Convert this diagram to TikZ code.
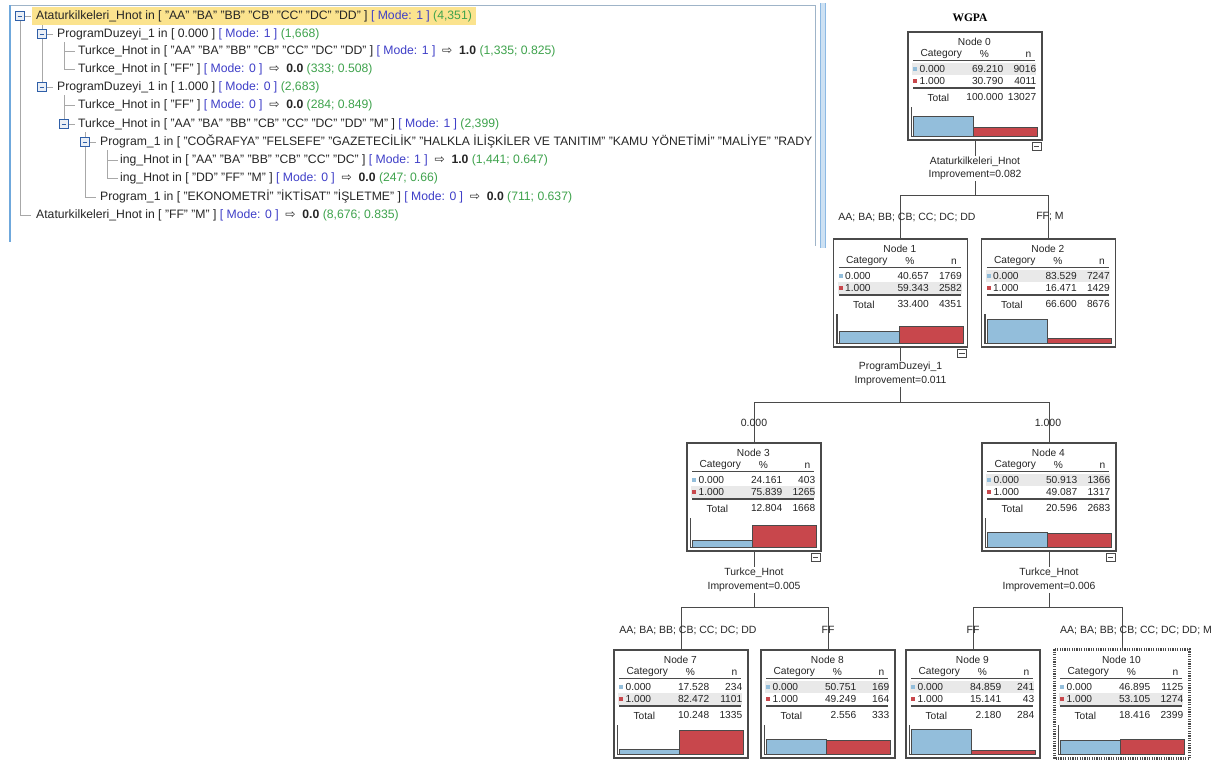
\documentclass[tikz,border=0pt]{standalone}
\usepackage{fontspec}
\setmainfont{Liberation Sans}
\newfontfamily\serifbold{Liberation Serif}
\newfontfamily\arrowfont{DejaVu Sans}
\usetikzlibrary{calc}

\definecolor{modeblue}{HTML}{3F3FC8}
\definecolor{cntgreen}{HTML}{3FA34D}
\definecolor{hilite}{HTML}{FBE38E}
\definecolor{guide}{HTML}{A8A8A8}
\definecolor{iconblue}{HTML}{2F5FA8}
\definecolor{panelblue}{HTML}{6FA8DC}
\definecolor{panelgrey}{HTML}{9FB4C8}
\definecolor{barblue}{HTML}{93BEDB}
\definecolor{barred}{HTML}{C8474C}
\definecolor{boxgrey}{HTML}{4A4A4A}
\definecolor{rowgrey}{HTML}{E9E9E9}

% rule tree text parts
\newcommand{\md}[1]{\textcolor{modeblue}{[ Mode: #1 ]}}
\newcommand{\cnt}[1]{\textcolor{cntgreen}{(#1)}}
\newcommand{\pred}[1]{\ {\arrowfont ⇨}\ \ \textbf{#1}}

\tikzset{
  rule/.style={anchor=west,inner sep=0pt,text height=9pt,text depth=3pt,
    font=\fontsize{12.2}{14}\selectfont,text=black!85},
  expander/.style={draw=iconblue,fill=iconblue!10,minimum size=8.5pt,inner sep=0pt,line width=0.8pt,
    path picture={\draw[iconblue,line width=0.9pt] ([xshift=1.8pt]path picture bounding box.west)
      -- ([xshift=-1.8pt]path picture bounding box.east);}},
  collapse/.style={draw=boxgrey,fill=white,minimum width=9pt,minimum height=8pt,inner sep=0pt,line width=0.8pt,
    path picture={\draw[boxgrey,line width=0.8pt] ([xshift=1.8pt]path picture bounding box.west)
      -- ([xshift=-1.8pt]path picture bounding box.east);}},
  catnode/.style={draw=boxgrey,fill=white,line width=1.2pt,minimum width=134pt,minimum height=108pt,inner sep=0pt},
  cell/.style={inner sep=0pt,font=\fontsize{10.2}{11}\selectfont,text=black!85},
  splitlabel/.style={align=center,inner sep=1pt,font=\fontsize{10.4}{13.5}\selectfont,text=black!85},
  branchlabel/.style={inner sep=0pt,font=\fontsize{10.5}{12}\selectfont,text=black!85},
  link/.style={draw=boxgrey,line width=1pt}
}

% one category box: number, x, top, pct0, n0, pct1, n1, total pct, total n
\newcommand{\catbox}[9]{%
  \node[catnode] (n#1) at (#2,{#3+54}) {};
  \pgfmathparse{#6>#4 ? 1 : 0}\let\majrow\pgfmathresult
  \begin{scope}[shift={(n#1.north west)}]
    \fill[rowgrey] (5,{32+12*\majrow}) rectangle (129,{44+12*\majrow});
    \node[cell] at (67,10) {Node #1};
    \node[cell,anchor=west] at (13,23) {Category};
    \node[cell] at (77,23) {\%};
    \node[cell,anchor=east] at (124,23) {n};
    \draw[boxgrey,line width=0.7pt] (6,29) -- (128,29);
    \fill[barblue] (6,36) rectangle (10,40);
    \node[cell,anchor=west] at (12,38) {0.000};
    \node[cell,anchor=east] at (96,38) {#4};
    \node[cell,anchor=east] at (129,38) {#5};
    \fill[barred] (6,48) rectangle (10,52);
    \node[cell,anchor=west] at (12,50) {1.000};
    \node[cell,anchor=east] at (96,50) {#6};
    \node[cell,anchor=east] at (129,50) {#7};
    \draw[boxgrey,line width=1.4pt] (6,56.5) -- (128,56.5);
    \node[cell,anchor=west] at (20,66) {Total};
    \node[cell,anchor=east] at (96,66) {#8};
    \node[cell,anchor=east] at (129,66) {#9};
    \filldraw[fill=barblue,draw=boxgrey,line width=0.8pt] (6,105) rectangle (66,{105-0.29*#4});
    \filldraw[fill=barred,draw=boxgrey,line width=0.8pt] (66,105) rectangle (130,{105-0.29*#6});
    \draw[boxgrey,line width=1.4pt] (4,76) -- (4,105) -- (131,105);
  \end{scope}}

\begin{document}
\begin{tikzpicture}[x=1pt,y=-1pt]
  \useasboundingbox[fill=white] (0,0) rectangle (1215,764);

  % ---- rule tree panel ----
  \draw[panelgrey,line width=0.8pt] (9,5) -- (815,5) -- (815,246);
  \fill[panelblue!35] (820,3) rectangle (825,248);
  \draw[panelblue!80,line width=0.6pt] (820,3) -- (820,248) (825,3) -- (825,248);
  \draw[panelblue,line width=2pt] (10,5) -- (10,242);

  % guide lines
  \draw[guide,line width=0.8pt] (20,16) -- (20,215) -- (31,215);
  \draw[guide,line width=0.8pt] (42,24) -- (42,87);
  \draw[guide,line width=0.8pt] (64,42) -- (64,69) -- (75,69) (64,51) -- (75,51);
  \draw[guide,line width=0.8pt] (64,95) -- (64,124) (64,105) -- (75,105);
  \draw[guide,line width=0.8pt] (85,132) -- (85,197) -- (96,197);
  \draw[guide,line width=0.8pt] (107,150) -- (107,178) -- (118,178) (107,160) -- (118,160);
  \foreach \ex/\ey in {20/16,42/34,42/87,64/124,85/142}
    \draw[guide,line width=0.8pt] (\ex,\ey) -- ++(11,0);

  \node[expander] (e0) at (20,16) {};
  \node[expander] (e1) at (42,34) {};
  \node[expander] (e4) at (42,87) {};
  \node[expander] (e6) at (64,124) {};
  \node[expander] (e7) at (85,142) {};

  % selected rule, highlighted
  \node[rule,fill=hilite,inner xsep=4pt,inner ysep=3pt] (r0) at (32,16) {Ataturkilkeleri\_Hnot in [ "AA" "BA" "BB" "CB" "CC" "DC" "DD" ] \md{1} \cnt{4,351}};
  \node[rule] (r1) at (57,34) {ProgramDuzeyi\_1 in [ 0.000 ] \md{1} \cnt{1,668}};
  \node[rule] (r2) at (78,51) {Turkce\_Hnot in [ "AA" "BA" "BB" "CB" "CC" "DC" "DD" ] \md{1} \pred{1.0} \cnt{1,335; 0.825}};
  \node[rule] (r3) at (78,69) {Turkce\_Hnot in [ "FF" ] \md{0} \pred{0.0} \cnt{333; 0.508}};
  \node[rule] (r4) at (57,87) {ProgramDuzeyi\_1 in [ 1.000 ] \md{0} \cnt{2,683}};
  \node[rule] (r5) at (78,105) {Turkce\_Hnot in [ "FF" ] \md{0} \pred{0.0} \cnt{284; 0.849}};
  \node[rule] (r6) at (78,124) {Turkce\_Hnot in [ "AA" "BA" "BB" "CB" "CC" "DC" "DD" "M" ] \md{1} \cnt{2,399}};
  \begin{scope}
    \clip (0,0) rectangle (813,250);
    \node[rule] (r7) at (100,142) {Program\_1 in [ "COĞRAFYA" "FELSEFE" "GAZETECİLİK" "HALKLA İLİŞKİLER VE TANITIM" "KAMU YÖNETİMİ" "MALİYE" "RADY};
  \end{scope}
  \node[rule] (r8) at (120,160) {ing\_Hnot in [ "AA" "BA" "BB" "CB" "CC" "DC" ] \md{1} \pred{1.0} \cnt{1,441; 0.647}};
  \node[rule] (r9) at (120,178) {ing\_Hnot in [ "DD" "FF" "M" ] \md{0} \pred{0.0} \cnt{247; 0.66}};
  \node[rule] (r10) at (100,197) {Program\_1 in [ "EKONOMETRİ" "İKTİSAT" "İŞLETME" ] \md{0} \pred{0.0} \cnt{711; 0.637}};
  \node[rule] (r11) at (36,215) {Ataturkilkeleri\_Hnot in [ "FF" "M" ] \md{0} \pred{0.0} \cnt{8,676; 0.835}};

  % ---- classification tree ----
  \node[font=\serifbold\bfseries\fontsize{11.5}{12}\selectfont] (title) at (970,18) {WGPA};

  \catbox{0}{975}{32}{69.210}{9016}{30.790}{4011}{100.000}{13027}
  \catbox{1}{900.5}{239}{40.657}{1769}{59.343}{2582}{33.400}{4351}
  \catbox{2}{1048.5}{239}{83.529}{7247}{16.471}{1429}{66.600}{8676}
  \catbox{3}{754}{443}{24.161}{403}{75.839}{1265}{12.804}{1668}
  \catbox{4}{1049}{443}{50.913}{1366}{49.087}{1317}{20.596}{2683}
  \catbox{7}{681}{650}{17.528}{234}{82.472}{1101}{10.248}{1335}
  \catbox{8}{828}{650}{50.751}{169}{49.249}{164}{2.556}{333}
  \catbox{9}{973}{650}{84.859}{241}{15.141}{43}{2.180}{284}
  \catbox{10}{1122}{650}{46.895}{1125}{53.105}{1274}{18.416}{2399}
  % selected node
  \draw[white,line width=2.4pt] (n10.north west) rectangle (n10.south east);
  \draw[boxgrey,line width=2.4pt,dash pattern=on 1.2pt off 1.2pt] (n10.north west) rectangle (n10.south east);

  % collapse toggles
  \foreach \k in {0,1,3,4}
    \node[collapse] (c\k) at ($(n\k.south east)+(-6,6)$) {};

  % splits
  \node[splitlabel] (s0) at (975,168.5) {Ataturkilkeleri\_Hnot\\Improvement=0.082};
  \node[splitlabel] (s1) at (900.5,374) {ProgramDuzeyi\_1\\Improvement=0.011};
  \node[splitlabel] (s3) at (754,580) {Turkce\_Hnot\\Improvement=0.005};
  \node[splitlabel] (s4) at (1049,580) {Turkce\_Hnot\\Improvement=0.006};

  \coordinate (b0) at (975,195);
  \coordinate (b1) at (900.5,402);
  \coordinate (b3) at (754,607);
  \coordinate (b4) at (1049,607);

  \draw[link] (n0.south) -- (s0.north);
  \draw[link] (s0.south) -- (b0);
  \draw[link] (b0) -| (n1.north);
  \draw[link] (b0) -| (n2.north);

  \draw[link] (n1.south) -- (s1.north);
  \draw[link] (s1.south) -- (b1);
  \draw[link] (b1) -| (n3.north);
  \draw[link] (b1) -| (n4.north);

  \draw[link] (n3.south) -- (s3.north);
  \draw[link] (s3.south) -- (b3);
  \draw[link] (b3) -| (n7.north);
  \draw[link] (b3) -| (n8.north);

  \draw[link] (n4.south) -- (s4.north);
  \draw[link] (s4.south) -- (b4);
  \draw[link] (b4) -| (n9.north);
  \draw[link] (b4) -| (n10.north);

  % branch values
  \node[branchlabel] (v1) at (907,217) {AA; BA; BB; CB; CC; DC; DD};
  \node[branchlabel] (v2) at (1050,217) {FF; M};
  \node[branchlabel] (v3) at (754,423) {0.000};
  \node[branchlabel] (v4) at (1048,423) {1.000};
  \node[branchlabel] (v7) at (688,630) {AA; BA; BB; CB; CC; DC; DD};
  \node[branchlabel] (v8) at (828,630) {FF};
  \node[branchlabel] (v9) at (973,630) {FF};
  \node[branchlabel] (v10) at (1136,630) {AA; BA; BB; CB; CC; DC; DD; M};

\end{tikzpicture}
\end{document}
